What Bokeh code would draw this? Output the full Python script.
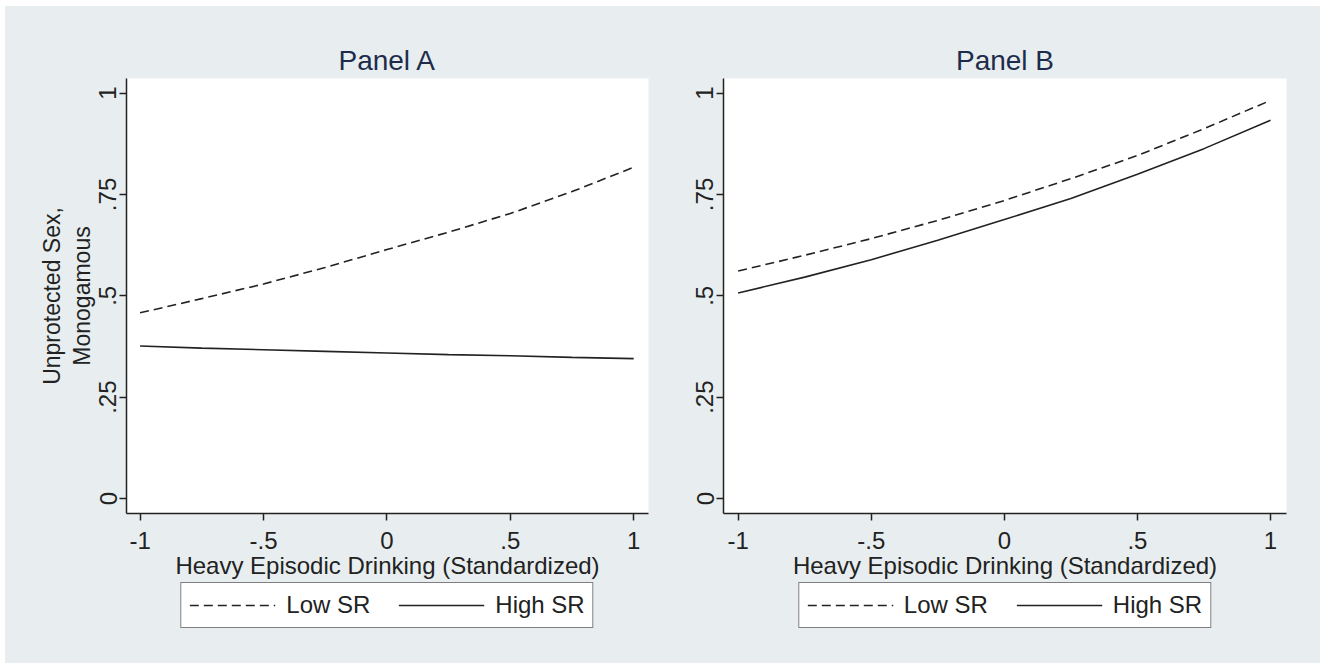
from bokeh.plotting import figure
from bokeh.models import Legend, LegendItem, Title, FixedTicker, Range1d
from bokeh.layouts import row, column
from bokeh.embed import file_html
from bokeh.resources import INLINE

# ---------------- data ----------------
hed = [-1, -0.75, -0.5, -0.25, 0, 0.25, 0.5, 0.75, 1]

panel_a_low_sr = [0.458, 0.493, 0.529, 0.570, 0.614, 0.657, 0.703, 0.757, 0.817]
panel_a_high_sr = [0.376, 0.371, 0.367, 0.363, 0.359, 0.355, 0.352, 0.348, 0.345]

panel_b_low_sr = [0.561, 0.600, 0.641, 0.686, 0.735, 0.789, 0.846, 0.912, 0.982]
panel_b_high_sr = [0.507, 0.546, 0.589, 0.637, 0.688, 0.740, 0.800, 0.863, 0.933]

x_ticks = [-1, -0.5, 0, 0.5, 1]
x_tick_labels = ["-1", "-.5", "0", ".5", "1"]
y_ticks = [0, 0.25, 0.5, 0.75, 1]
y_tick_labels = ["0", ".25", ".5", ".75", "1"]

titles = ["Panel A", "Panel B"]
x_title = "Heavy Episodic Drinking (Standardized)"
y_title_lines = ["Unprotected Sex,", "Monogamous"]
legend_labels = ["Low SR", "High SR"]

# ---------------- style ----------------
BG = "#e8eeef"
INK = "#222222"
TITLE_INK = "#1e2c4c"
FONT = "Liberation Sans"
X0, X1 = -1.055, 1.06
Y0, Y1 = -0.037, 1.036
FRAME_H = 435
TOP, BOTTOM = 72, 69
LEG_H = 81
DASH = "9 5"


def style_line_kw(dashed):
    kw = dict(line_color=INK, line_width=1.6)
    if dashed:
        kw["line_dash"] = DASH
    return kw


def make_panel(title, low, high, frame_w, left, right, ytitle=None):
    p = figure(frame_width=frame_w, frame_height=FRAME_H,
               x_range=Range1d(X0, X1), y_range=Range1d(Y0, Y1),
               output_backend="svg", toolbar_location=None,
               min_border_left=left, min_border_right=right,
               min_border_top=TOP, min_border_bottom=BOTTOM)
    p.border_fill_color = BG
    p.background_fill_color = "white"
    p.outline_line_color = None
    p.grid.visible = False

    p.title.text = title
    p.title.align = "center"
    p.title.text_font = FONT
    p.title.text_font_size = "28px"
    p.title.text_font_style = "normal"
    p.title.text_color = TITLE_INK
    p.title.standoff = 6

    for ax in (p.xaxis[0], p.yaxis[0]):
        ax.axis_line_color = INK
        ax.axis_line_width = 1.5
        ax.major_tick_line_color = INK
        ax.major_tick_line_width = 1.5
        ax.major_tick_out = 7
        ax.major_tick_in = 0
        ax.minor_tick_out = 0
        ax.minor_tick_in = 0
        ax.major_label_text_font = FONT
        ax.major_label_text_font_size = "24px"
        ax.major_label_text_color = INK

    p.xaxis.ticker = FixedTicker(ticks=x_ticks)
    p.xaxis.major_label_overrides = dict(zip(x_ticks, x_tick_labels))
    p.xaxis.major_label_standoff = 11
    p.xaxis.axis_label = x_title
    p.xaxis.axis_label_text_font = FONT
    p.xaxis.axis_label_text_font_size = "24px"
    p.xaxis.axis_label_text_font_style = "normal"
    p.xaxis.axis_label_text_color = INK
    p.xaxis.axis_label_standoff = 0

    p.yaxis.ticker = FixedTicker(ticks=y_ticks)
    p.yaxis.major_label_overrides = dict(zip(y_ticks, y_tick_labels))
    p.yaxis.major_label_orientation = "vertical"
    p.yaxis.major_label_standoff = 3

    p.line(hed, low, **style_line_kw(True))
    p.line(hed, high, **style_line_kw(False))

    if ytitle:
        # nearest line to the axis first
        for i, txt in enumerate(reversed(ytitle)):
            p.add_layout(Title(text=txt, align="center", text_font=FONT,
                               text_font_size="23px", text_font_style="normal",
                               text_color=INK, standoff=4 if i == 0 else 0), "left")

    # legend strip under the panel, frame aligned with the plot frame;
    # the series are drawn outside its visible y range so only the legend shows
    lf = figure(frame_width=frame_w, frame_height=LEG_H,
                x_range=Range1d(X0, X1), y_range=Range1d(5, 6),
                x_axis_type=None, y_axis_type=None,
                output_backend="svg", toolbar_location=None,
                min_border_left=left, min_border_right=right,
                min_border_top=0, min_border_bottom=0)
    lf.border_fill_color = BG
    lf.background_fill_color = BG
    lf.outline_line_color = None
    lf.grid.visible = False
    g_low = lf.line(hed, low, **style_line_kw(True))
    g_high = lf.line(hed, high, **style_line_kw(False))
    legend = Legend(items=[LegendItem(label=legend_labels[0], renderers=[g_low]),
                           LegendItem(label=legend_labels[1], renderers=[g_high])],
                    orientation="horizontal", location="top_center")
    legend.border_line_color = "black"
    legend.border_line_width = 1
    legend.background_fill_color = "white"
    legend.background_fill_alpha = 1
    legend.label_text_font = FONT
    legend.label_text_font_size = "24px"
    legend.label_text_color = INK
    legend.glyph_width = 86
    legend.glyph_height = 24
    legend.label_standoff = 11
    legend.spacing = 28
    legend.padding = 8
    legend.margin = 0
    lf.add_layout(legend)
    return column(p, lf, spacing=0, styles={"background-color": BG})


pa = make_panel(titles[0], panel_a_low_sr, panel_a_high_sr, 522, 121, 15, y_title_lines)
pb = make_panel(titles[1], panel_b_low_sr, panel_b_high_sr, 563, 60, 34)

layout = row(pa, pb, spacing=0, margin=(6, 0, 0, 5), styles={"background-color": BG})
open("out.html", "w").write(file_html(layout, INLINE))
